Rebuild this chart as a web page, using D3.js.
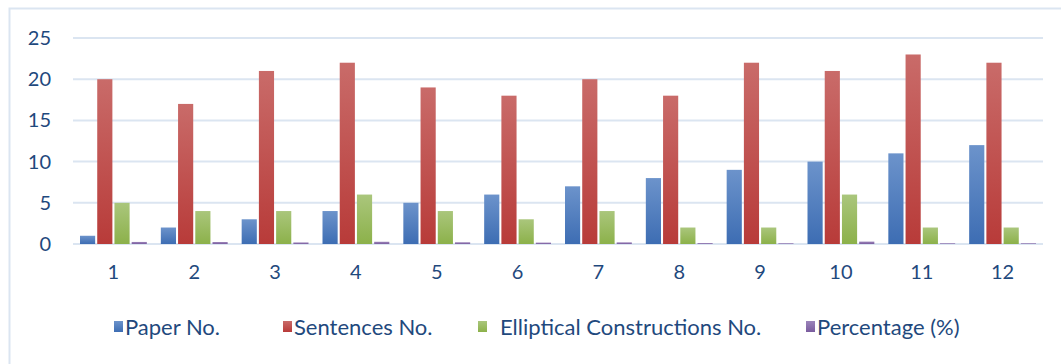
<!DOCTYPE html>
<html>
<head>
<meta charset="utf-8">
<script src="https://cdn.jsdelivr.net/npm/d3@7"></script>
<style>
  html, body { margin: 0; padding: 0; background: #fff; }
  svg { display: block; font-family: Lato, "Open Sans", sans-serif; }
</style>
</head>
<body>
<svg id="chart" width="1061" height="364"></svg>
<script>
// chart data
const categories = ['1', '2', '3', '4', '5', '6', '7', '8', '9', '10', '11', '12'];
const seriesNames = ['Paper No.', 'Sentences No.', 'Elliptical Constructions No.', 'Percentage (%)'];
const paperNo = [1, 2, 3, 4, 5, 6, 7, 8, 9, 10, 11, 12];
const sentencesNo = [20, 17, 21, 22, 19, 18, 20, 18, 22, 21, 23, 22];
const ellipticalNo = [5, 4, 4, 6, 4, 3, 4, 2, 2, 6, 2, 2];
const percentage = [0.25, 0.24, 0.19, 0.27, 0.21, 0.17, 0.2, 0.11, 0.09, 0.29, 0.09, 0.09];
const yTicks = [0, 5, 10, 15, 20, 25];

const seriesValues = [paperNo, sentencesNo, ellipticalNo, percentage];
// top / bottom colours of the bar gradients
const colors = [
    ['#6c93cb', '#3d6db3'],
    ['#c96b69', '#b83b39'],
    ['#aac67c', '#8cb14a'],
    ['#9b84ba', '#7a5c9e']
];
const textColor = '#1f497d';
const gridColor = '#dbe5f1';

const svg = d3.select('#chart');

// frame of the chart area
svg.append('rect')
    .attr('x', 9.5).attr('y', 8.5)
    .attr('width', 1100).attr('height', 400)
    .attr('fill', 'none')
    .attr('stroke', gridColor)
    .attr('stroke-width', 2);

const defs = svg.append('defs');
colors.forEach((c, i) => {
    const g = defs.append('linearGradient')
        .attr('id', 'grad' + i)
        .attr('x1', 0).attr('y1', 0).attr('x2', 0).attr('y2', 1);
    g.append('stop').attr('offset', '0%').attr('stop-color', c[0]);
    g.append('stop').attr('offset', '100%').attr('stop-color', c[1]);
});

const x0 = d3.scaleBand().domain(categories).range([73, 1043]);
const x1 = d3.scaleBand().domain(d3.range(seriesNames.length))
    .range([7, x0.bandwidth() - 7]).paddingInner(0.12);
const y = d3.scaleLinear().domain([0, 25]).range([244, 38]);

// gridlines
svg.append('g')
    .selectAll('line')
    .data(yTicks)
    .join('line')
    .attr('x1', 73).attr('x2', 1043)
    .attr('y1', d => y(d)).attr('y2', d => y(d))
    .attr('stroke', gridColor)
    .attr('stroke-width', 2);

// y axis labels
const yAxis = d3.axisLeft(y).tickValues(yTicks).tickSize(0).tickPadding(0);
svg.append('g')
    .attr('transform', 'translate(51,0)')
    .call(yAxis)
    .call(g => g.select('.domain').remove())
    .call(g => g.selectAll('text')
        .attr('fill', textColor)
        .attr('font-size', 20)
        .attr('font-family', 'Lato, "Open Sans", sans-serif'));

// x axis labels
const xAxis = d3.axisBottom(x0).tickSize(0).tickPadding(0);
svg.append('g')
    .attr('transform', 'translate(0,265)')
    .call(xAxis)
    .call(g => g.select('.domain').remove())
    .call(g => g.selectAll('text')
        .attr('fill', textColor)
        .attr('font-size', 20)
        .attr('font-family', 'Lato, "Open Sans", sans-serif'));

// bars
const groups = svg.append('g')
    .selectAll('g')
    .data(categories)
    .join('g')
    .attr('transform', d => 'translate(' + x0(d) + ',0)');

groups.selectAll('rect')
    .data((d, i) => seriesValues.map((vals, s) => ({ s: s, v: vals[i] })))
    .join('rect')
    .attr('x', d => x1(d.s))
    .attr('width', x1.bandwidth())
    .attr('y', d => y(d.v))
    .attr('height', d => y(0) - y(d.v))
    .attr('fill', d => 'url(#grad' + d.s + ')');

// legend
const legendX = [114, 283, 478, 806];
const legend = svg.append('g')
    .selectAll('g')
    .data(seriesNames)
    .join('g')
    .attr('transform', (d, i) => 'translate(' + legendX[i] + ',321)');

legend.append('rect')
    .attr('width', 9).attr('height', 11)
    .attr('fill', (d, i) => 'url(#grad' + i + ')');

legend.append('text')
    .attr('x', (d, i) => i === 2 ? 22 : 11)
    .attr('y', 14)
    .attr('fill', textColor)
    .attr('font-size', 22)
    .text(d => d);
</script>
</body>
</html>
